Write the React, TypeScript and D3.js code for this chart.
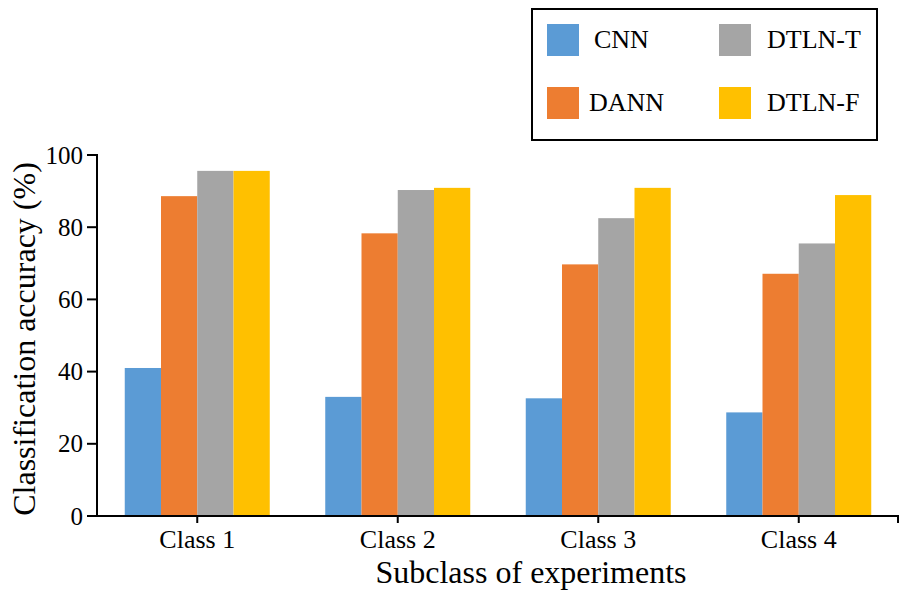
import React from "react";
import * as d3 from "d3";

const classes = ["Class 1", "Class 2", "Class 3", "Class 4"];
const seriesNames = ["CNN", "DANN", "DTLN-T", "DTLN-F"];
const cnn = [41.0, 33.0, 32.6, 28.7];
const dann = [88.6, 78.3, 69.7, 67.1];
const dtlnT = [95.6, 90.3, 82.5, 75.5];
const dtlnF = [95.6, 90.9, 90.9, 88.9];
const yTicks = [0, 20, 40, 60, 80, 100];
const colors = ["#5B9BD5", "#ED7D31", "#A5A5A5", "#FFC000"];

const W = 903;
const H = 596;
const FONT = '"Times New Roman", "Liberation Serif", "DejaVu Serif", serif';

export default function App() {
  const values = [cnn, dann, dtlnT, dtlnF];
  const x0 = d3.scaleBand<string>().domain(classes).range([97, 899]).padding(0);
  const bw = x0.bandwidth();
  const groupW = 145;
  const x1 = d3
    .scaleBand<string>()
    .domain(seriesNames)
    .range([(bw - groupW) / 2, (bw + groupW) / 2])
    .padding(0);
  const y = d3.scaleLinear().domain([0, 100]).range([516, 155]);

  const legendItems = [
    { name: "CNN", color: colors[0], sx: 547, tx: 594, row: 0 },
    { name: "DANN", color: colors[1], sx: 547, tx: 589, row: 1 },
    { name: "DTLN-T", color: colors[2], sx: 719, tx: 767, row: 0 },
    { name: "DTLN-F", color: colors[3], sx: 719, tx: 767, row: 1 },
  ];

  return (
    <svg
      width={W}
      height={H}
      style={{ position: "absolute", left: 0, top: 0, background: "#fff", fontFamily: FONT }}
    >
      <rect x={0} y={0} width={W} height={H} fill="#fff" />
      {classes.map((c, ci) => (
        <g key={c} transform={`translate(${x0(c)},0)`}>
          {seriesNames.map((s, si) => (
            <rect
              key={s}
              x={x1(s)}
              y={y(values[si][ci])}
              width={x1.bandwidth()}
              height={y(0) - y(values[si][ci])}
              fill={colors[si]}
            />
          ))}
        </g>
      ))}
      {/* Y axis */}
      <line x1={97} y1={154} x2={97} y2={517} stroke="#000" strokeWidth={2} />
      {yTicks.map((t) => (
        <g key={t}>
          <line x1={87} x2={97} y1={y(t)} y2={y(t)} stroke="#000" strokeWidth={2} />
          <text x={83} y={y(t)} dy="0.34em" textAnchor="end" fontSize={25}>
            {t}
          </text>
        </g>
      ))}
      {/* X axis */}
      <line x1={93} y1={516} x2={899} y2={516} stroke="#000" strokeWidth={2} />
      {classes.map((c) => (
        <g key={c}>
          <line
            x1={x0(c)! + bw / 2}
            x2={x0(c)! + bw / 2}
            y1={516}
            y2={523}
            stroke="#000"
            strokeWidth={2}
          />
          <text x={x0(c)! + bw / 2} y={548} textAnchor="middle" fontSize={26}>
            {c}
          </text>
        </g>
      ))}
      <line x1={898} x2={898} y1={516} y2={523} stroke="#000" strokeWidth={2} />
      <text x={531} y={583} textAnchor="middle" fontSize={32}>
        Subclass of experiments
      </text>
      <text
        transform={`translate(35,339) rotate(-90)`}
        textAnchor="middle"
        fontSize={32}
      >
        Classification accuracy (%)
      </text>
      {/* Legend */}
      <rect x={532} y={9} width={345} height={131} fill="#fff" stroke="#000" strokeWidth={2} />
      {legendItems.map((it) => (
        <g key={it.name}>
          <rect x={it.sx} y={24 + it.row * 63} width={32} height={32} fill={it.color} />
          <text x={it.tx} y={48 + it.row * 63} fontSize={26}>
            {it.name}
          </text>
        </g>
      ))}
    </svg>
  );
}
